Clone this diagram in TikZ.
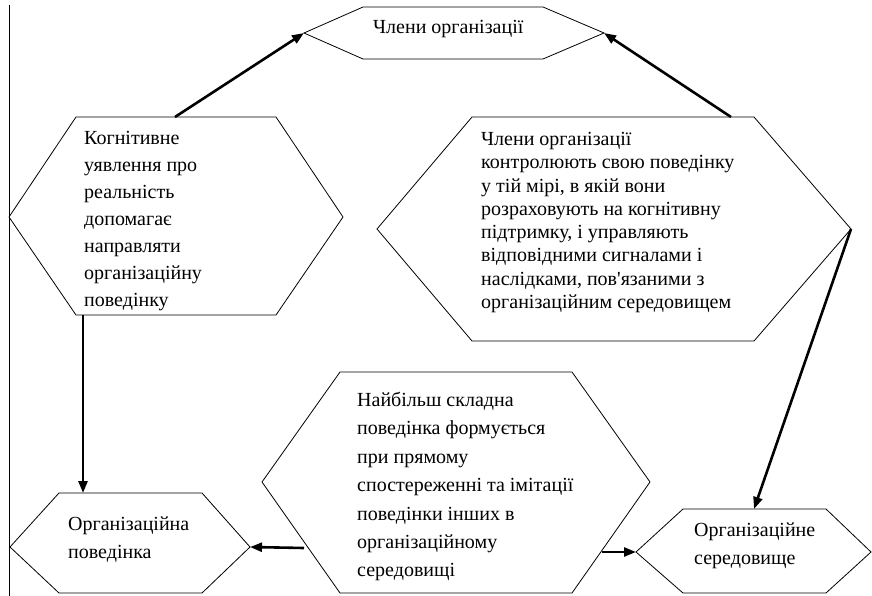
\documentclass[tikz,border=0pt]{standalone}
\usepackage{fontspec}
\setmainfont{Liberation Serif}[Ligatures=TeXOff]
\usetikzlibrary{arrows.meta}
\tikzset{hexa/.style={draw=black,line width=.8pt,line join=miter}}
\tikzset{arr/.style={draw=black,line width=2.6pt,-{Triangle[length=12pt,width=9pt]}}}
\tikzset{lbl/.style={anchor=north west,inner sep=0pt,align=left}}

\begin{document}
\begin{tikzpicture}[x=1pt,y=-1pt]
  \useasboundingbox (0,0) rectangle (872,596);
  \draw[line width=.8pt] (9,5) -- (9,596);

  % hexagons
  \draw[hexa] (304,33) coordinate (chl-w) -- (363,7) -- (543,7) -- (604,33) coordinate (chl-e)
    -- (543,59) -- (363,59) -- cycle;
  \draw[hexa] (9,217) -- (76,117) -- (175,117) coordinate (kog-n) -- (276,117) -- (343,217)
    -- (276,315) -- (83,315) coordinate (kog-s) -- (76,315) -- cycle;
  \draw[hexa] (377,229) -- (472,117) -- (731,117) coordinate (kon-n) -- (754,117)
    -- (851,229) coordinate (kon-e) -- (754,341) -- (472,341) -- cycle;
  \draw[hexa] (262,482) -- (340,372) -- (572,372) -- (650,482) -- (572,593) -- (340,593) -- cycle;
  \draw[hexa] (10,547) -- (59,493) -- (83,493) coordinate (pov-n) -- (202,493)
    -- (250,547) coordinate (pov-e) -- (202,593) -- (59,593) -- cycle;
  \draw[hexa] (636,552) coordinate (ser-w) -- (683,509) -- (754,509) coordinate (ser-n) -- (826,509)
    -- (871,552) -- (826,593) -- (683,593) -- cycle;
  \coordinate (naj-w) at (304,548);
  \coordinate (naj-e) at (602,552);

  % texts
  \node[lbl,font=\fontsize{20}{27}\selectfont] (chl) at (373,20) {Члени організації};
  \node[lbl,font=\fontsize{20}{27}\selectfont] (kog) at (84,131)
    {Когнітивне\\уявлення про\\реальність\\допомагає\\направляти\\організаційну\\поведінку};
  \node[lbl,font=\fontsize{20}{23.3}\selectfont] (kon) at (481,132)
    {Члени організації\\контролюють свою поведінку\\у тій мірі, в якій вони\\розраховують на когнітивну\\підтримку, і управляють\\відповідними сигналами і\\наслідками, пов'язаними з\\організаційним середовищем};
  \node[lbl,font=\fontsize{20}{28.4}\selectfont] (naj) at (357,392)
    {Найбільш складна\\поведінка формується\\при прямому\\спостереженні та імітації\\поведінки інших в\\організаційному\\середовищі};
  \node[lbl,font=\fontsize{20}{27.5}\selectfont] (pov) at (68,517) {Організаційна\\поведінка};
  \node[lbl,font=\fontsize{20}{28}\selectfont] (ser) at (694,523) {Організаційне\\середовище};

  % arrows
  \draw[arr] (kog-n) -- (chl-w);
  \draw[arr] (kon-n) -- (chl-e);
  \draw[arr] (kon-e) -- (ser-n);
  \draw[arr] (kog-s) -- (pov-n);
  \draw[arr] (naj-w) -- (pov-e);
  \draw[arr] (naj-e) -- (ser-w);
\end{tikzpicture}
\end{document}
